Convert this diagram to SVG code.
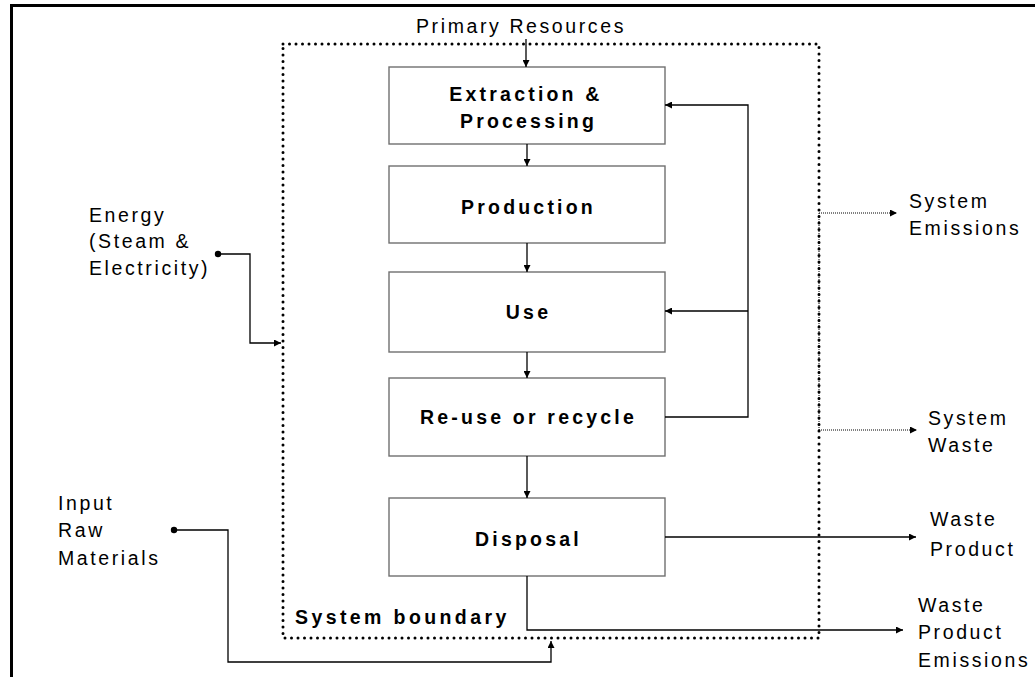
<svg xmlns="http://www.w3.org/2000/svg" width="1035" height="677" viewBox="0 0 1035 677">
  <defs>
    <marker id="arrow" viewBox="0 0 10 10" refX="10" refY="5" markerWidth="8" markerHeight="7" markerUnits="userSpaceOnUse" orient="auto">
      <path d="M0,0 L10,5 L0,10 z" fill="#000"/>
    </marker>
    <style>
      .frame { fill: none; stroke: #000; stroke-width: 3; }
      .boundary { fill: none; stroke: #000; stroke-width: 3; stroke-linecap: round; stroke-dasharray: 0 6.5; }
      .box { fill: #fff; stroke: #707070; stroke-width: 1.4; }
      .flow { fill: none; stroke: #000; stroke-width: 1.3; }
      .fine { fill: none; stroke: #000; stroke-width: 1; stroke-dasharray: 1 1; }
      .label { font-family: "Liberation Sans", Arial, sans-serif; font-size: 19.5px; letter-spacing: 2.6px; fill: #000; }
      .title { font-family: "Liberation Sans", Arial, sans-serif; font-size: 19.5px; font-weight: bold; letter-spacing: 3.2px; fill: #000; text-anchor: middle; }
      .boundary-label { font-family: "Liberation Sans", Arial, sans-serif; font-size: 19.5px; font-weight: bold; letter-spacing: 3.4px; fill: #000; }
    </style>
  </defs>

  <rect width="1035" height="677" fill="#fff"/>
  <!-- page frame, open to the right and bottom -->
  <rect class="frame" x="11.5" y="5.5" width="1100" height="720"/>

  <!-- system boundary -->
  <g id="system-boundary">
    <rect class="boundary" x="283" y="44" width="536" height="594"/>
    <text class="boundary-label" x="295" y="624">System boundary</text>
  </g>

  <!-- process stages -->
  <g id="extraction">
    <rect class="box" x="389" y="67" width="276" height="77"/>
    <text class="title" x="526" y="101">Extraction &amp;</text>
    <text class="title" x="528.5" y="128">Processing</text>
  </g>
  <g id="production">
    <rect class="box" x="389" y="166" width="276" height="77"/>
    <text class="title" x="528.5" y="214">Production</text>
  </g>
  <g id="use">
    <rect class="box" x="389" y="272" width="276" height="80"/>
    <text class="title" x="528.5" y="319">Use</text>
  </g>
  <g id="reuse">
    <rect class="box" x="389" y="378" width="276" height="78"/>
    <text class="title" x="528.5" y="424">Re-use or recycle</text>
  </g>
  <g id="disposal">
    <rect class="box" x="389" y="498" width="276" height="78"/>
    <text class="title" x="528.5" y="546">Disposal</text>
  </g>

  <!-- external inputs and outputs -->
  <g id="primary-resources">
    <text class="label" x="416" y="33">Primary Resources</text>
  </g>
  <g id="energy">
    <text class="label" x="89" y="222">Energy</text>
    <text class="label" x="89" y="248">(Steam &amp;</text>
    <text class="label" x="89" y="275">Electricity)</text>
  </g>
  <g id="raw-materials">
    <text class="label" x="58" y="510">Input</text>
    <text class="label" x="58" y="537">Raw</text>
    <text class="label" x="58" y="565">Materials</text>
  </g>
  <g id="system-emissions">
    <text class="label" x="909" y="208">System</text>
    <text class="label" x="909" y="235">Emissions</text>
  </g>
  <g id="system-waste">
    <text class="label" x="928" y="425">System</text>
    <text class="label" x="928" y="452">Waste</text>
  </g>
  <g id="waste-product">
    <text class="label" x="930" y="526">Waste</text>
    <text class="label" x="930" y="556">Product</text>
  </g>
  <g id="waste-product-emissions">
    <text class="label" x="918" y="612">Waste</text>
    <text class="label" x="918" y="639">Product</text>
    <text class="label" x="918" y="667">Emissions</text>
  </g>

  <!-- connectors -->
  <g id="connectors">
    <path class="flow" d="M526,39 V67" marker-end="url(#arrow)"/>
    <path class="flow" d="M527,144 V166" marker-end="url(#arrow)"/>
    <path class="flow" d="M527,243 V272" marker-end="url(#arrow)"/>
    <path class="flow" d="M527,352 V378" marker-end="url(#arrow)"/>
    <path class="flow" d="M527,456 V498" marker-end="url(#arrow)"/>

    <!-- recycle loop -->
    <path class="flow" d="M665,417 H748 V105 H665" marker-end="url(#arrow)"/>
    <path class="flow" d="M748,311 H665" marker-end="url(#arrow)"/>

    <!-- energy input -->
    <circle cx="218" cy="254" r="3.2" fill="#000"/>
    <path class="flow" d="M218,254 H250 V343 H281" marker-end="url(#arrow)"/>

    <!-- raw material input -->
    <circle cx="174" cy="530" r="3.2" fill="#000"/>
    <path class="flow" d="M174,530 H228 V662 H551 V641" marker-end="url(#arrow)"/>

    <!-- system emissions and waste -->
    <path class="fine" d="M819,213 V430"/>
    <path class="fine" d="M819,213 H897" marker-end="url(#arrow)"/>
    <path class="fine" d="M819,430 H917" marker-end="url(#arrow)"/>

    <!-- disposal outputs -->
    <path class="flow" d="M665,537 H916" marker-end="url(#arrow)"/>
    <path class="flow" d="M527,576 V630 H903" marker-end="url(#arrow)"/>
  </g>
</svg>
